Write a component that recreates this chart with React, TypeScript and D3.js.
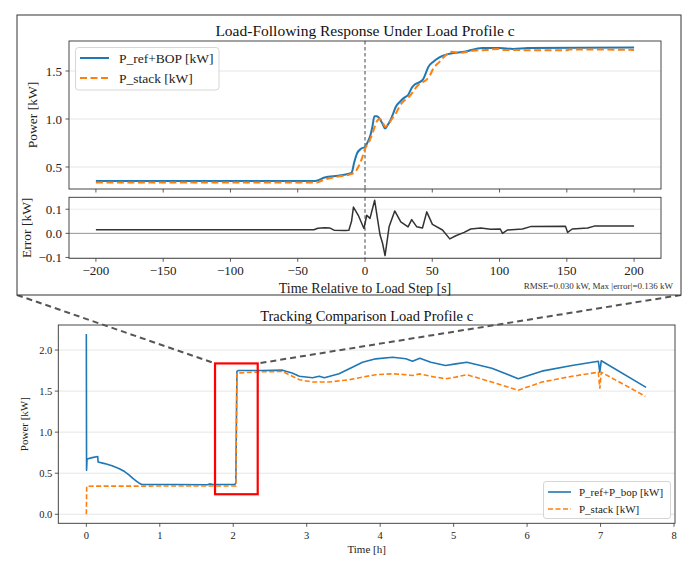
import React from "react";
import * as d3 from "d3";

// ---------- Inset (zoomed) data: time relative to load step [s] ----------
const refTimeS = [-200, -37, -30, -20, -12, -10, -8, -6, -3, 0, 2, 4, 5.5, 7, 9, 11, 13, 15, 17, 19, 21, 23, 26, 29, 32, 35, 37, 40, 43, 45, 47, 51, 55, 58, 63, 74, 87, 100, 110, 121, 200];
const refPowerKW = [0.355, 0.355, 0.39, 0.41, 0.43, 0.44, 0.55, 0.64, 0.69, 0.71, 0.76, 0.83, 0.92, 1.03, 1.03, 1.0, 0.95, 0.9, 0.94, 0.99, 1.06, 1.13, 1.18, 1.22, 1.25, 1.33, 1.36, 1.38, 1.41, 1.47, 1.54, 1.6, 1.64, 1.66, 1.68, 1.7, 1.74, 1.74, 1.73, 1.74, 1.745];

const stackTimeS = [-200, -36, -30, -20, -12, -8, -5, -2, 0, 3, 6, 9, 11, 13, 15, 17, 20, 23, 26, 29, 32, 35, 38, 42, 45, 48, 51, 55, 59, 64, 70, 80, 90, 100, 103, 150, 152, 200];
const stackPowerKW = [0.34, 0.34, 0.37, 0.4, 0.42, 0.44, 0.5, 0.6, 0.69, 0.76, 0.87, 0.98, 1.0, 0.97, 0.92, 0.94, 1.0, 1.06, 1.14, 1.19, 1.22, 1.27, 1.33, 1.38, 1.4, 1.45, 1.53, 1.59, 1.65, 1.7, 1.69, 1.71, 1.72, 1.73, 1.72, 1.715, 1.725, 1.72];

const errTimeS = [-200, -38, -35, -30, -26, -23, -15, -12, -10, -8.6, -5, -0.8, 1.3, 3.7, 7.2, 9, 11.2, 13, 14.9, 17.9, 22.1, 26.6, 32, 34.7, 38.5, 42.7, 45.9, 50.1, 57.6, 63, 67.5, 73.7, 78.6, 86, 93.5, 100.5, 102.2, 106, 117, 123, 149, 150.6, 154, 165.5, 170.4, 200];
const errKW = [0.015, 0.015, 0.021, 0.023, 0.022, 0.013, 0.012, 0.013, 0.05, 0.109, 0.075, 0.02, 0.075, 0.062, 0.137, 0.07, -0.007, -0.04, -0.092, 0.027, 0.093, 0.048, 0.027, 0.057, 0.027, 0.022, 0.089, 0.037, 0.014, -0.023, -0.01, 0.004, 0.018, 0.022, 0.017, 0.018, 0.0, 0.014, 0.018, 0.028, 0.029, 0.004, 0.018, 0.022, 0.03, 0.03];

// ---------- Full-profile data: time [h] ----------
const fullRefTimeH = [0, 0.003, 0.01, 0.08, 0.155, 0.16, 0.25, 0.35, 0.45, 0.52, 0.58, 0.63, 0.68, 0.72, 0.75, 0.78, 1.2, 1.65, 1.68, 1.72, 2.02, 2.035, 2.05, 2.07, 2.4, 2.67, 2.8, 2.9, 3.08, 3.17, 3.24, 3.44, 3.58, 3.76, 3.94, 4.17, 4.35, 4.44, 4.54, 4.69, 4.89, 5.03, 5.18, 5.52, 5.88, 6.2, 6.61, 6.97, 6.99, 7.01, 7.62];
const fullRefKW = [2.195, 0.535, 0.673, 0.69, 0.704, 0.637, 0.617, 0.59, 0.555, 0.52, 0.48, 0.44, 0.405, 0.378, 0.365, 0.362, 0.362, 0.36, 0.37, 0.362, 0.362, 0.38, 1.74, 1.75, 1.75, 1.755, 1.72, 1.68, 1.663, 1.68, 1.663, 1.711, 1.772, 1.852, 1.893, 1.912, 1.893, 1.864, 1.9, 1.852, 1.812, 1.832, 1.852, 1.779, 1.651, 1.743, 1.812, 1.864, 1.73, 1.87, 1.545];

const fullStackTimeH = [0, 0.005, 2.02, 2.035, 2.05, 2.4, 2.67, 2.9, 3.08, 3.3, 3.58, 3.76, 3.94, 4.17, 4.35, 4.44, 4.54, 4.69, 4.89, 5.03, 5.18, 5.52, 5.88, 6.2, 6.61, 6.97, 6.99, 7.01, 7.61];
const fullStackKW = [0, 0.342, 0.345, 0.345, 1.72, 1.735, 1.739, 1.639, 1.61, 1.61, 1.639, 1.67, 1.7, 1.711, 1.7, 1.69, 1.71, 1.68, 1.65, 1.67, 1.7, 1.61, 1.51, 1.61, 1.68, 1.73, 1.53, 1.73, 1.437];

// highlighted region [h] and [kW]
const highlightTimeH = [1.752, 2.333];
const highlightKW = [0.244, 1.837];

// ticks
const insetXTicks = [-200, -150, -100, -50, 0, 50, 100, 150, 200];
const powerYTicks = [0.5, 1.0, 1.5];
const errYTicks = [-0.1, 0.0, 0.1];
const fullXTicks = [0, 1, 2, 3, 4, 5, 6, 7, 8];
const fullYTicks = [0.0, 0.5, 1.0, 1.5, 2.0];

const BLUE = "#1f77b4";
const ORANGE = "#ff7f0e";
const FONT = "'Liberation Serif', 'DejaVu Serif', serif";
const SPINE = "#333";

const fmt = (v: number, d: number) => (v < 0 ? "\u2212" : "") + Math.abs(v).toFixed(d);

export default function App() {
  const W = 699, H = 577;
  // layout
  const frame = { x0: 17, y0: 15, x1: 681, y1: 295 };
  const pAx = { x0: 69, x1: 661, y0: 41, y1: 189 };
  const eAx = { x0: 69, x1: 661, y0: 197.3, y1: 258.3 };
  const bAx = { x0: 58.3, x1: 675, y0: 325, y1: 523.3 };

  const xIn = d3.scaleLinear().domain([-220, 220]).range([pAx.x0, pAx.x1]);
  const yP = d3.scaleLinear().domain([0.271, 1.8125]).range([pAx.y1, pAx.y0]);
  const yE = d3.scaleLinear().domain([-0.1035, 0.1495]).range([eAx.y1, eAx.y0]);
  const xB = d3.scaleLinear().domain([-0.3816, 8.0136]).range([bAx.x0, bAx.x1]);
  const yB = d3.scaleLinear().domain([-0.11, 2.305]).range([bAx.y1, bAx.y0]);

  const lineP = d3.line<[number, number]>().x(d => xIn(d[0])).y(d => yP(d[1])).curve(d3.curveMonotoneX);
  const lineE = d3.line<[number, number]>().x(d => xIn(d[0])).y(d => yE(d[1]));
  const lineB = d3.line<[number, number]>().x(d => xB(d[0])).y(d => yB(d[1]));

  const zip = (a: number[], b: number[]) => a.map((v, i) => [v, b[i]] as [number, number]);

  const refPath = lineP(zip(refTimeS, refPowerKW))!;
  const stackPath = lineP(zip(stackTimeS, stackPowerKW))!;
  const errPath = lineE(zip(errTimeS, errKW))!;
  const fullRefPath = lineB(zip(fullRefTimeH, fullRefKW))!;
  const fullStackPath = lineB(zip(fullStackTimeH, fullStackKW))!;

  const rx0 = xB(highlightTimeH[0]), rx1 = xB(highlightTimeH[1]);
  const ry0 = yB(highlightKW[1]), ry1 = yB(highlightKW[0]);

  return (
    <div style={{ position: "absolute", left: 0, top: 0, width: W, height: H, background: "#fff" }}>
      <svg width={W} height={H} viewBox={`0 0 ${W} ${H}`} style={{ display: "block", fontFamily: FONT }}>
        <rect x={0} y={0} width={W} height={H} fill="#fff" />

        {/* ================= Bottom full-profile chart ================= */}
        <text x={(bAx.x0 + bAx.x1) / 2} y={321} textAnchor="middle" fontSize={14.5} fill="#111">Tracking Comparison Load Profile c</text>
        <defs>
          <clipPath id="clipB"><rect x={bAx.x0} y={bAx.y0} width={bAx.x1 - bAx.x0} height={bAx.y1 - bAx.y0} /></clipPath>
          <clipPath id="clipP"><rect x={pAx.x0} y={pAx.y0} width={pAx.x1 - pAx.x0} height={pAx.y1 - pAx.y0} /></clipPath>
          <clipPath id="clipE"><rect x={eAx.x0} y={eAx.y0} width={eAx.x1 - eAx.x0} height={eAx.y1 - eAx.y0} /></clipPath>
        </defs>
        {fullYTicks.map(t => (
          <g key={"by" + t}>
            <line x1={bAx.x0} x2={bAx.x1} y1={yB(t)} y2={yB(t)} stroke="#e6e6e6" strokeWidth={1} />
            <line x1={bAx.x0 - 3.5} x2={bAx.x0} y1={yB(t)} y2={yB(t)} stroke={SPINE} strokeWidth={0.8} />
            <text x={bAx.x0 - 6} y={yB(t) + 3.5} textAnchor="end" fontSize={10.5} fill="#222">{fmt(t, 1)}</text>
          </g>
        ))}
        {fullXTicks.map(t => (
          <g key={"bx" + t}>
            <line x1={xB(t)} x2={xB(t)} y1={bAx.y1} y2={bAx.y1 + 3.5} stroke={SPINE} strokeWidth={0.8} />
            <text x={xB(t)} y={bAx.y1 + 16} textAnchor="middle" fontSize={10.5} fill="#222">{t}</text>
          </g>
        ))}
        <g clipPath="url(#clipB)">
          <path d={fullRefPath} fill="none" stroke={BLUE} strokeWidth={1.6} strokeLinejoin="round" />
          <path d={fullStackPath} fill="none" stroke={ORANGE} strokeWidth={1.6} strokeDasharray="5,2.5" />
        </g>
        <rect x={bAx.x0} y={bAx.y0} width={bAx.x1 - bAx.x0} height={bAx.y1 - bAx.y0} fill="none" stroke={SPINE} strokeWidth={0.9} />
        <text x={(bAx.x0 + bAx.x1) / 2} y={553} textAnchor="middle" fontSize={11} fill="#222">Time [h]</text>
        <text transform={`translate(28,${(bAx.y0 + bAx.y1) / 2}) rotate(-90)`} textAnchor="middle" fontSize={11} fill="#222">Power [kW]</text>

        {/* bottom legend */}
        <g>
          <rect x={543.5} y={481.5} width={127} height={37} rx={2.5} fill="#fff" fillOpacity={0.85} stroke="#ccc" strokeWidth={0.8} />
          <line x1={548} x2={571} y1={492} y2={492} stroke={BLUE} strokeWidth={1.6} />
          <line x1={548} x2={571} y1={509} y2={509} stroke={ORANGE} strokeWidth={1.6} strokeDasharray="5,2.5" />
          <text x={579} y={496} fontSize={11} fill="#222">P_ref+P_bop [kW]</text>
          <text x={579} y={513} fontSize={11} fill="#222">P_stack [kW]</text>
        </g>

        {/* highlight rectangle */}
        <rect x={rx0} y={ry0} width={rx1 - rx0} height={ry1 - ry0} fill="none" stroke="#ff0000" strokeWidth={2.2} />

        {/* connectors */}
        <line x1={frame.x0} y1={frame.y1} x2={rx0} y2={ry0} stroke="#555" strokeWidth={2} strokeDasharray="6,4" />
        <line x1={frame.x1} y1={frame.y1} x2={rx1} y2={ry0} stroke="#555" strokeWidth={2} strokeDasharray="6,4" />

        {/* ================= Inset frame ================= */}
        <rect x={frame.x0} y={frame.y0} width={frame.x1 - frame.x0} height={frame.y1 - frame.y0} fill="#fff" stroke="#333" strokeWidth={1} />
        <text x={(pAx.x0 + pAx.x1) / 2} y={35.5} textAnchor="middle" fontSize={15.5} fill="#111">Load-Following Response Under Load Profile c</text>

        {/* power axes */}
        {powerYTicks.map(t => (
          <g key={"py" + t}>
            <line x1={pAx.x0} x2={pAx.x1} y1={yP(t)} y2={yP(t)} stroke="#e6e6e6" strokeWidth={1} />
            <line x1={pAx.x0 - 3.5} x2={pAx.x0} y1={yP(t)} y2={yP(t)} stroke={SPINE} strokeWidth={0.8} />
            <text x={pAx.x0 - 7} y={yP(t) + 4.5} textAnchor="end" fontSize={13} fill="#222">{fmt(t, 1)}</text>
          </g>
        ))}
        {insetXTicks.map(t => (
          <line key={"px" + t} x1={xIn(t)} x2={xIn(t)} y1={pAx.y1} y2={pAx.y1 + 3.5} stroke={SPINE} strokeWidth={0.8} />
        ))}
        <line x1={xIn(0)} x2={xIn(0)} y1={pAx.y0} y2={pAx.y1} stroke="#444" strokeWidth={1} strokeDasharray="3.5,2.5" />
        <g clipPath="url(#clipP)">
          <path d={refPath} fill="none" stroke={BLUE} strokeWidth={2} strokeLinejoin="round" />
          <path d={stackPath} fill="none" stroke={ORANGE} strokeWidth={2} strokeDasharray="7,3.5" />
        </g>
        <rect x={pAx.x0} y={pAx.y0} width={pAx.x1 - pAx.x0} height={pAx.y1 - pAx.y0} fill="none" stroke={SPINE} strokeWidth={0.9} />
        <text transform={`translate(37,${(pAx.y0 + pAx.y1) / 2}) rotate(-90)`} textAnchor="middle" fontSize={13.5} fill="#222">Power [kW]</text>

        {/* top legend */}
        <g>
          <rect x={75.5} y={47.5} width={143.5} height={42.5} rx={3} fill="#fff" fillOpacity={0.85} stroke="#ccc" strokeWidth={0.8} />
          <line x1={80} x2={109} y1={58} y2={58} stroke={BLUE} strokeWidth={2} />
          <line x1={80} x2={109} y1={78} y2={78} stroke={ORANGE} strokeWidth={2} strokeDasharray="7,3.5" />
          <text x={119} y={62.5} fontSize={13.5} fill="#222">P_ref+BOP [kW]</text>
          <text x={119} y={82.5} fontSize={13.5} fill="#222">P_stack [kW]</text>
        </g>

        {/* error axes */}
        {errYTicks.map(t => (
          <g key={"ey" + t}>
            {t !== 0 && <line x1={eAx.x0} x2={eAx.x1} y1={yE(t)} y2={yE(t)} stroke="#ececec" strokeWidth={1} />}
            <line x1={eAx.x0 - 3.5} x2={eAx.x0} y1={yE(t)} y2={yE(t)} stroke={SPINE} strokeWidth={0.8} />
            <text x={eAx.x0 - 7} y={yE(t) + 4.5} textAnchor="end" fontSize={13} fill="#222">{fmt(t, 1)}</text>
          </g>
        ))}
        {insetXTicks.map(t => (
          <g key={"ex" + t}>
            <line x1={xIn(t)} x2={xIn(t)} y1={eAx.y1} y2={eAx.y1 + 3.5} stroke={SPINE} strokeWidth={0.8} />
            <text x={xIn(t)} y={eAx.y1 + 17} textAnchor="middle" fontSize={13} fill="#222">{fmt(t, 0)}</text>
          </g>
        ))}
        <line x1={eAx.x0} x2={eAx.x1} y1={yE(0)} y2={yE(0)} stroke="#888" strokeWidth={0.9} />
        <line x1={xIn(0)} x2={xIn(0)} y1={eAx.y0} y2={eAx.y1} stroke="#444" strokeWidth={1} strokeDasharray="3.5,2.5" />
        <g clipPath="url(#clipE)">
          <path d={errPath} fill="none" stroke="#333" strokeWidth={1.5} strokeLinejoin="round" />
        </g>
        <rect x={eAx.x0} y={eAx.y0} width={eAx.x1 - eAx.x0} height={eAx.y1 - eAx.y0} fill="none" stroke={SPINE} strokeWidth={0.9} />
        <text transform={`translate(31,${(eAx.y0 + eAx.y1) / 2}) rotate(-90)`} textAnchor="middle" fontSize={13.5} fill="#222">Error [kW]</text>
        <text x={(eAx.x0 + eAx.x1) / 2} y={292.5} textAnchor="middle" fontSize={14} fill="#222">Time Relative to Load Step [s]</text>
        <text x={673} y={288.5} textAnchor="end" fontSize={9} fill="#333">RMSE=0.030 kW, Max |error|=0.136 kW</text>
      </svg>
    </div>
  );
}
